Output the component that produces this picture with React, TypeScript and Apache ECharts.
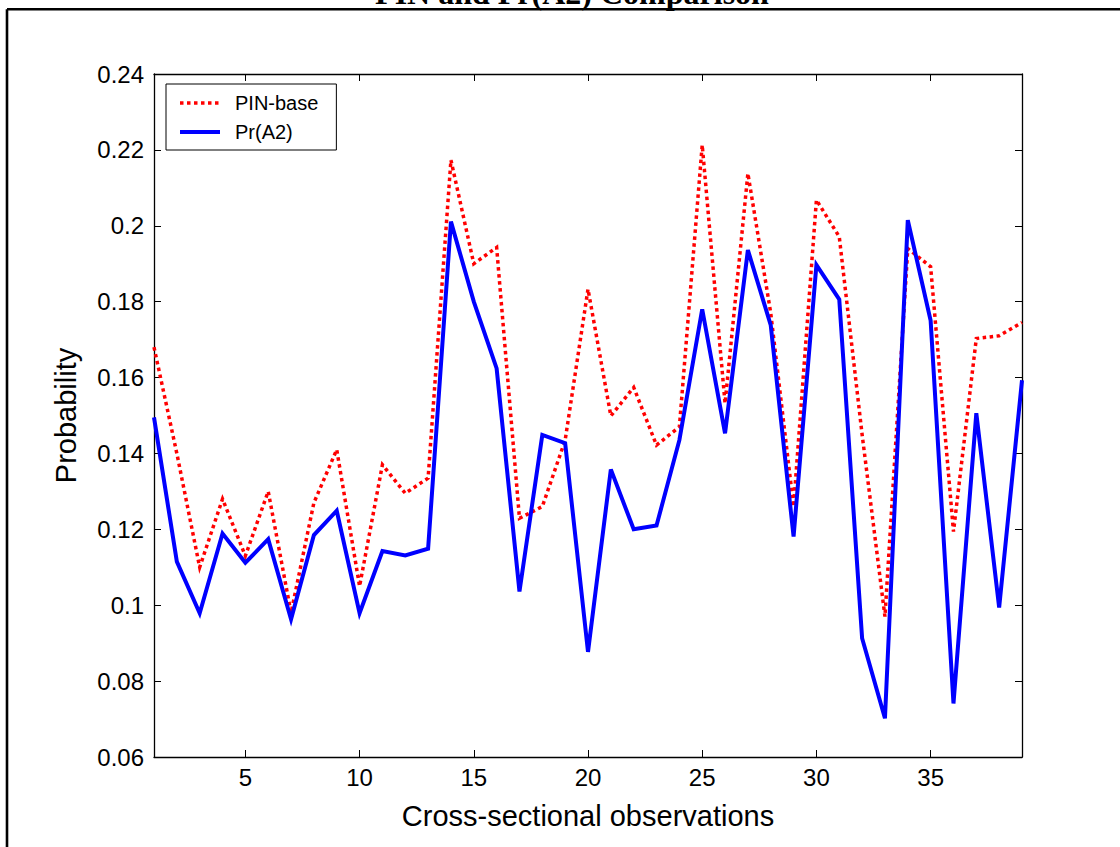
import React, { useEffect, useRef } from "react";
import * as echarts from "echarts";

const obs = [1, 2, 3, 4, 5, 6, 7, 8, 9, 10, 11, 12, 13, 14, 15, 16, 17, 18, 19, 20, 21, 22, 23, 24, 25, 26, 27, 28, 29, 30, 31, 32, 33, 34, 35, 36, 37, 38, 39];
const pinBase = [0.168, 0.140, 0.110, 0.128, 0.113, 0.130, 0.098, 0.127, 0.141, 0.105, 0.137, 0.1295, 0.1335, 0.2173, 0.190, 0.1943, 0.1229, 0.126, 0.1435, 0.1833, 0.1499, 0.1574, 0.1422, 0.147, 0.2213, 0.1532, 0.2138, 0.177, 0.126, 0.2068, 0.1971, 0.145, 0.097, 0.194, 0.1892, 0.1194, 0.1703, 0.171, 0.1745];
const prA2 = [0.1495, 0.1115, 0.0979, 0.1189, 0.1112, 0.1174, 0.0963, 0.1185, 0.1249, 0.0979, 0.1143, 0.1131, 0.1149, 0.2011, 0.180, 0.1624, 0.1036, 0.1449, 0.1427, 0.0877, 0.1358, 0.120, 0.121, 0.1435, 0.178, 0.1453, 0.1936, 0.1738, 0.1181, 0.1897, 0.1806, 0.0913, 0.0702, 0.2015, 0.175, 0.0741, 0.1506, 0.0994, 0.1593];
const xTicks = [5, 10, 15, 20, 25, 30, 35];
const seriesNames = ["PIN-base", "Pr(A2)"];
const titleText = "PIN and Pr(A2) Comparison";
const xName = "Cross-sectional observations";
const yName = "Probability";

const FONT = "'Liberation Sans', Arial, Helvetica, sans-serif";

export default function App() {
  const ref = useRef<HTMLDivElement>(null);
  useEffect(() => {
    if (!ref.current) return;
    const chart = echarts.init(ref.current, undefined, { renderer: "svg" });
    const axisLine = { show: true, lineStyle: { color: "#000", width: 1.3 } };
    const tick = { show: true, inside: true, length: 7, lineStyle: { color: "#000", width: 1 } };
    const redLine = { color: "#ff0000", width: 3.5, type: [3.5, 3.5], cap: "butt", join: "miter" };
    const blueLine = { color: "#0000ff", width: 4, type: "solid", join: "miter" };
    chart.setOption({
      animation: false,
      backgroundColor: "#fff",
      grid: { left: 154, right: 98, top: 74, bottom: 90, containLabel: false },
      legend: {
        show: true,
        orient: "vertical",
        left: 166,
        top: 84,
        data: [
          { name: seriesNames[0], lineStyle: { ...redLine } },
          { name: seriesNames[1], lineStyle: { ...blueLine } },
        ],
        backgroundColor: "#fff",
        borderColor: "#000",
        borderWidth: 1,
        borderRadius: 0,
        padding: [9, 18, 8, 12],
        itemWidth: 40,
        itemHeight: 14,
        itemGap: 9,
        itemStyle: { opacity: 0, borderWidth: 0 },
        textStyle: { fontFamily: FONT, fontSize: 20, color: "#000", padding: [0, 0, 0, 10] },
      },
      xAxis: [
        {
          type: "value",
          min: 1,
          max: 39,
          position: "bottom",
          name: xName,
          nameLocation: "middle",
          nameGap: 44,
          nameTextStyle: { fontFamily: FONT, fontSize: 29, color: "#000" },
          axisLine,
          axisTick: { ...tick, customValues: xTicks },
          axisLabel: { customValues: xTicks, fontFamily: FONT, fontSize: 24, color: "#000", margin: 8 },
          splitLine: { show: false },
        },
        {
          type: "value",
          min: 1,
          max: 39,
          position: "top",
          axisLine,
          axisTick: { ...tick, customValues: xTicks },
          axisLabel: { show: false, customValues: xTicks },
          splitLine: { show: false },
        },
      ],
      yAxis: [
        {
          type: "value",
          min: 0.06,
          max: 0.24,
          interval: 0.02,
          position: "left",
          name: yName,
          nameLocation: "middle",
          nameGap: 74,
          nameTextStyle: { fontFamily: FONT, fontSize: 29, color: "#000" },
          axisLine,
          axisTick: tick,
          axisLabel: { fontFamily: FONT, fontSize: 24, color: "#000", margin: 10 },
          splitLine: { show: false },
        },
        {
          type: "value",
          min: 0.06,
          max: 0.24,
          interval: 0.02,
          position: "right",
          axisLine,
          axisTick: tick,
          axisLabel: { show: false },
          splitLine: { show: false },
        },
      ],
      series: [
        {
          name: seriesNames[0],
          type: "line",
          xAxisIndex: 0,
          yAxisIndex: 0,
          data: obs.map((x, i) => [x, pinBase[i]]),
          showSymbol: false,
          symbol: "none",
          color: "#ff0000",
          lineStyle: redLine,
          z: 2,
        },
        {
          name: seriesNames[1],
          type: "line",
          xAxisIndex: 0,
          yAxisIndex: 0,
          data: obs.map((x, i) => [x, prA2[i]]),
          showSymbol: false,
          symbol: "none",
          color: "#0000ff",
          lineStyle: blueLine,
          z: 3,
        },
      ],
      graphic: [
        {
          type: "text",
          x: 572,
          y: -7.5,
          style: {
            text: titleText,
            x: 0,
            y: 0,
            font: "bold 32px 'Liberation Serif', 'Times New Roman', serif",
            fill: "#000",
            align: "center",
            verticalAlign: "middle",
          },
          z: 10,
        },
        {
          type: "line",
          shape: { x1: 7, y1: 9.3, x2: 1120, y2: 9.3 },
          style: { stroke: "#000", lineWidth: 2.6 },
          z: 11,
        },
        {
          type: "line",
          shape: { x1: 7, y1: 9.3, x2: 7, y2: 847 },
          style: { stroke: "#000", lineWidth: 2.6 },
          z: 11,
        },
      ],
    });
    return () => chart.dispose();
  }, []);
  return <div ref={ref} style={{ position: "fixed", left: 0, top: 0, width: 1120, height: 847 }} />;
}
